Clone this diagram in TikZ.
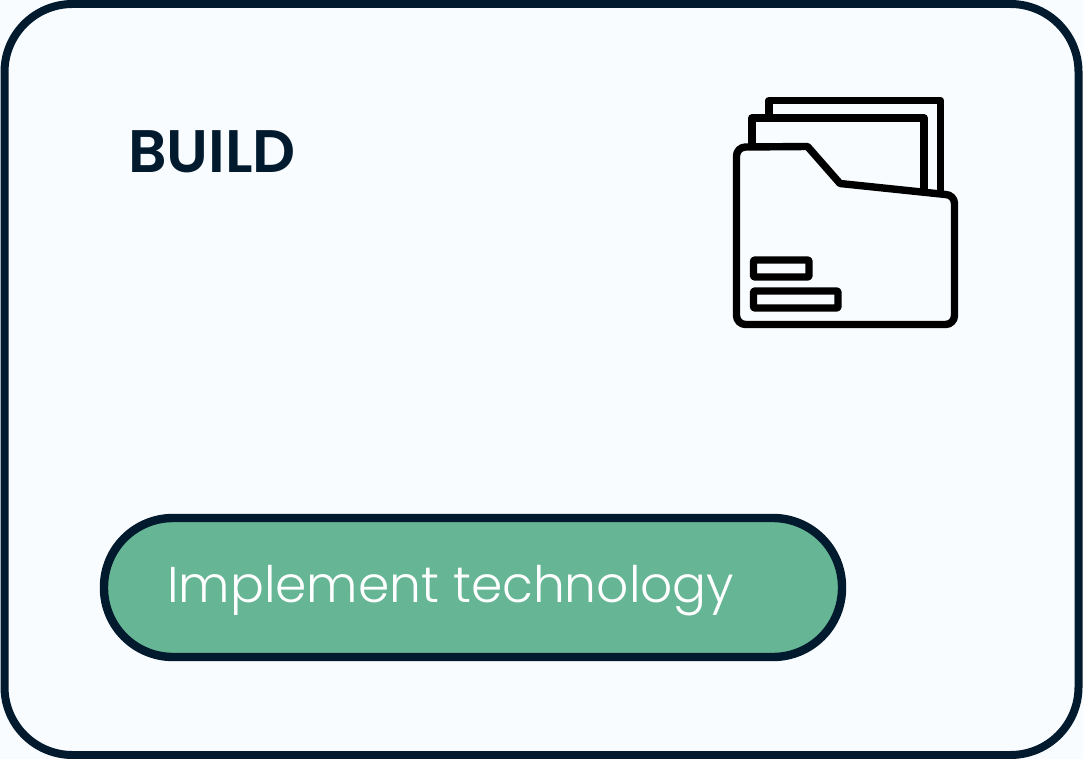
\documentclass[tikz,border=0pt]{standalone}
\usepackage{fontspec}
\setmainfont{Poppins}
\newfontfamily\lightfont{Poppins Light}
\newfontfamily\semifont{Poppins SemiBold}
\definecolor{navy}{HTML}{011A2E}
\definecolor{pale}{HTML}{F8FCFF}
\definecolor{pill}{HTML}{66B696}
\tikzset{x=1pt,y=-1pt,
 icon/.style={draw=black,line width=7.4pt,line join=round,fill=none}}
\begin{document}
\begin{tikzpicture}
\useasboundingbox (0,0) rectangle (1083,759);
\fill[pale] (0,0) rectangle (1083,759);
\draw[navy,fill=pale,line width=8pt,rounded corners=68pt] (4.5,4) rectangle (1078.5,755);
\draw[navy,fill=pill,line width=8.4pt,rounded corners=69pt] (104,518) rectangle (842,657);
\node[anchor=base west,inner sep=0pt,text=navy,font=\fontsize{60pt}{60pt}\selectfont\semifont] (build) at (128,173) {BUILD};
\node[anchor=base west,inner sep=0pt,text=white,font=\fontsize{50.3pt}{50.3pt}\selectfont\lightfont] (impl) at (167,602) {Implement technology};
\draw[icon] (769,116) -- (769,100.5) -- (940.5,100.5) -- (940.5,192);
\draw[icon] (752,146) -- (752,118) -- (924,118) -- (924,190);
\draw[icon] (736.5,156) arc[start angle=180,end angle=270,radius=9] -- (807.5,146.5) -- (840,183.5) -- (945.5,194.5) arc[start angle=-90,end angle=0,radius=9] -- (954.5,315.5) arc[start angle=0,end angle=90,radius=9] -- (745.5,324.5) arc[start angle=90,end angle=180,radius=9] -- cycle;
\draw[icon,rounded corners=1pt] (753.5,260) rectangle (809,277);
\draw[icon,rounded corners=1pt] (753.5,291) rectangle (838,308);
\end{tikzpicture}
\end{document}
